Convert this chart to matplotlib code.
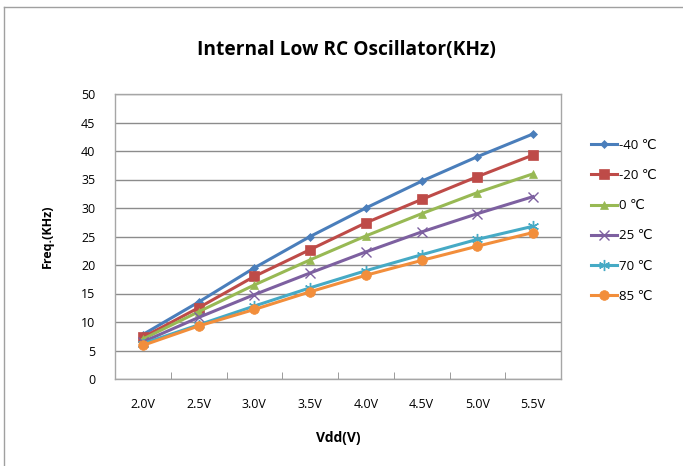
import matplotlib.pyplot as plt
from matplotlib.lines import Line2D

# данные
vdd = ["2.0V", "2.5V", "3.0V", "3.5V", "4.0V", "4.5V", "5.0V", "5.5V"]
t_m40 = [7.8, 13.5, 19.5, 25.0, 30.0, 34.7, 39.0, 43.0]
t_m20 = [7.3, 12.5, 18.0, 22.7, 27.4, 31.5, 35.5, 39.3]
t_0 = [7.0, 11.8, 16.5, 20.9, 25.1, 29.0, 32.7, 36.0]
t_25 = [6.5, 10.8, 14.8, 18.6, 22.3, 25.8, 29.0, 32.0]
t_70 = [6.2, 9.5, 12.8, 16.0, 19.0, 21.8, 24.5, 26.8]
t_85 = [5.9, 9.3, 12.2, 15.3, 18.2, 20.8, 23.3, 25.7]
labels = ["-40 ℃", "-20 ℃", "0 ℃", "25 ℃", "70 ℃", "85 ℃"]

plt.rcParams['font.family'] = ['Open Sans', 'DejaVu Sans']

fig = plt.figure(figsize=(6.83, 4.66), dpi=100)
ax = fig.add_axes([115 / 683, 1 - 379 / 466, 446 / 683, 285 / 466])

series = [t_m40, t_m20, t_0, t_25, t_70, t_85]
colors = ['#4A7EBB', '#BE4B48', '#98B954', '#7D60A0', '#46AAC5', '#F28E3B']
markers = ['D', 's', '^', 'x', (6, 2, 0), 'o']
sizes = [4.5, 6.5, 6, 7, 8, 7]
x = list(range(len(vdd)))

for ys, lab, c, m, s in zip(series, labels, colors, markers, sizes):
    thin = m in ('x', (6, 2, 0))
    ax.plot(x, ys, color=c, marker=m, markersize=s, linewidth=2.2, label=lab,
            markeredgewidth=1.0 if thin else 0.5)

ax.set_xlim(-0.5, len(vdd) - 0.5)
ax.set_ylim(0, 50)
ax.set_yticks(range(0, 51, 5))
ax.set_xticks(x)
ax.set_xticklabels(vdd)
ax.yaxis.grid(True, color='#8c8c8c', linewidth=1)
ax.set_axisbelow(True)
ax.tick_params(axis='y', length=0, labelsize=9, pad=14)
ax.tick_params(axis='x', length=0, labelsize=9, pad=14)
# засечки между категориями
ax.set_xticks([i - 0.5 for i in range(len(vdd) + 1)], minor=True)
ax.tick_params(axis='x', which='minor', length=5, color='#8c8c8c', direction='in')
for sp in ax.spines.values():
    sp.set_color('#a6a6a6')
    sp.set_linewidth(1)

ax.set_xlabel("Vdd(V)", fontsize=10, fontweight='bold', labelpad=14)
ax.set_ylabel("Freq.(KHz)", fontsize=9, fontweight='bold', labelpad=20)
fig.text(346 / 683, 1 - 50 / 466, "Internal Low RC Oscillator(KHz)",
         fontsize=13.8, fontweight='bold', ha='center', va='center')

ax.legend(loc='upper left', bbox_to_anchor=(1.055, 0.861), frameon=False,
          fontsize=9.5, labelspacing=1.3, handlelength=2.0, handletextpad=0.15,
          borderaxespad=0)

# рамка скриншота
fig.add_artist(Line2D([4 / 683, 4 / 683], [0, 1 - 7 / 466], color='#a0a0a0', linewidth=1))
fig.add_artist(Line2D([4 / 683, 1], [1 - 7 / 466, 1 - 7 / 466], color='#a0a0a0', linewidth=1))

fig.savefig("out.png", dpi=100)
